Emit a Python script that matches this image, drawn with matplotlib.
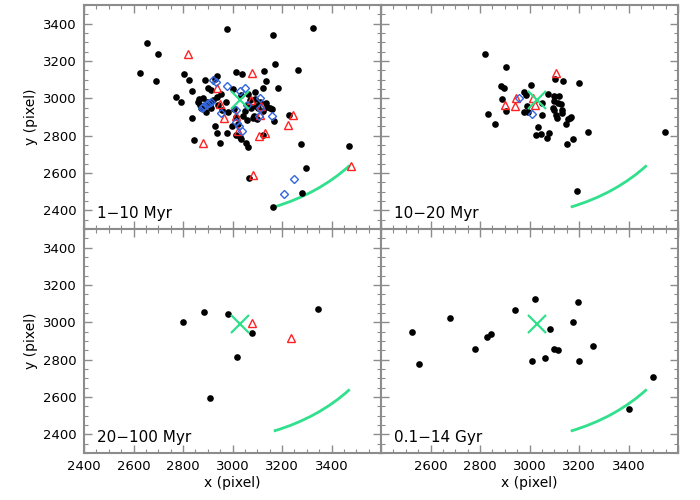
import matplotlib
matplotlib.use('Agg')
import matplotlib.pyplot as plt
from matplotlib.patches import Arc
import numpy as np

plt.rcParams['font.family'] = 'DejaVu Sans'

# ---- data (pixel coordinates) ----
labels = ['1\u221210 Myr', '10\u221220 Myr', '20\u2212100 Myr', '0.1\u221214 Gyr']

# panel 1: 1-10 Myr
p1_black_x = [2976, 3162, 3326, 2656, 2697, 2626, 2690, 3173, 3265, 3184, 2772, 2792,
              2837, 2928, 2939, 2976, 2846, 2948, 3030, 3034, 3054, 3061, 3122, 3276,
              3472, 3295, 3067, 3282, 3162, 3229, 3166,
              2824, 2805, 2887, 2937, 2931, 3016, 3038, 3127, 3134, 2835, 2903, 2914,
              3002, 3091, 3125, 2866, 2880, 2897, 2923, 3063, 3089, 3111, 3135, 3152,
              3161, 2873, 2893, 2910, 2959, 2982, 3005, 3050, 3073, 3087, 3100, 3122,
              3043, 3059, 3081, 2999, 3023, 3016, 2887, 2859, 2904, 2941, 2937, 2955,
              2975, 3057, 3104, 3070, 3036, 3016, 2868, 2912, 3095, 3140]
p1_black_y = [3372, 3341, 3375, 3298, 3236, 3138, 3095, 3184, 3154, 3057, 3007, 2980,
              2897, 2852, 2813, 2816, 2777, 2759, 2791, 2780, 2759, 2741, 2804, 2755,
              2745, 2625, 2571, 2491, 2416, 2909, 2880,
              3100, 3128, 3096, 3121, 3103, 3139, 3128, 3146, 3094, 3039, 3053, 3044,
              3048, 3032, 3053, 2994, 3003, 2982, 2991, 3021, 2999, 2978, 2973, 2950,
              2943, 2946, 2925, 2964, 2937, 2928, 2943, 2932, 2946, 2907, 2889, 2932,
              2907, 2882, 2893, 2852, 2861, 2803, 2964, 2982, 2973, 2964, 3009, 3021,
              2982, 2964, 2946, 2991, 3018, 2902, 2965, 2950, 2960, 2955]
p1_red_x = [2819, 3080, 2938, 2950, 2964, 3016, 3024, 3074, 3116, 3111, 3131, 3107,
            3243, 3224, 2881, 3084, 3479]
p1_red_y = [3236, 3138, 3053, 2967, 2893, 2905, 2825, 2992, 2959, 2911, 2812, 2798,
            2911, 2857, 2759, 2589, 2638]
p1_blue_x = [2923, 2934, 2979, 3029, 3051, 3111, 2875, 2885, 2895, 2905, 2915, 2880,
             2952, 3016, 3057, 3111, 3108, 3159, 3016, 3027, 3040, 3250, 3207]
p1_blue_y = [3098, 3089, 3066, 3041, 3053, 3003, 2950, 2960, 2970, 2976, 2980, 2955,
             2923, 2937, 2964, 2950, 2905, 2905, 2875, 2853, 2827, 2568, 2488]

# panel 2: 10-20 Myr
p2_black_x = [2819, 2903, 2885, 2897, 2890, 2907, 2834, 2859, 2977, 2986, 3006, 2990,
              2977, 2994, 3050, 3050, 3074, 3097, 3120, 3100, 3114, 3127, 3094, 3100,
              3130, 3132, 3106, 3112, 3147, 3154, 3166, 3163, 3103, 3137, 3199, 3034,
              3047, 3027, 3077, 3070, 3150, 3176, 3236, 3546, 3191]
p2_black_y = [3236, 3170, 3066, 3057, 2995, 2932, 2918, 2861, 3032, 3020, 3070, 2959,
              2927, 2927, 2977, 2909, 3022, 3013, 3013, 2986, 2973, 2968, 2947, 2936,
              2938, 2923, 2911, 2893, 2863, 2888, 2902, 2893, 3102, 3091, 3082, 2848,
              2809, 2802, 2816, 2786, 2754, 2780, 2822, 2822, 2505]
p2_red_x = [3106, 2902, 2943, 2946, 3014, 3023]
p2_red_y = [3136, 2963, 2961, 3000, 3000, 2964]
p2_blue_x = [2957, 3012]
p2_blue_y = [3003, 2914]

# panel 3: 20-100 Myr
p3_black_x = [2799, 2883, 2980, 3078, 3020, 2908, 3346]
p3_black_y = [3001, 3055, 3042, 2942, 2812, 2594, 3073]
p3_red_x = [3078, 3238]
p3_red_y = [2996, 2914]

# panel 4: 0.1-14 Gyr
p4_black_x = [2526, 2555, 2677, 2778, 2830, 2846, 2942, 3022, 3011, 3064, 3082, 3100,
              3116, 3174, 3194, 3199, 3258, 3400, 3500]
p4_black_y = [2950, 2778, 3021, 2858, 2919, 2937, 3066, 3123, 2792, 2810, 2964, 2855,
              2853, 3001, 3110, 2792, 2874, 2537, 2705]

center_x, center_y = 3030, 2990
arc_cx, arc_cy, arc_r = 2890, 3120, 755
arc_t1, arc_t2 = -68.5, -39.4

xticks = [2400, 2600, 2800, 3000, 3200, 3400, 3600]
yticks = [2400, 2600, 2800, 3000, 3200, 3400]

green = '#30e08c'
red = '#ff2222'
blue = '#3366dd'
gray = '#8c8c8c'

fig = plt.figure(figsize=(7, 5), dpi=100)
w, h = 0.4243, 0.448
pos = [[0.12, 0.542, w, h], [0.12 + w, 0.542, w, h],
       [0.12, 0.094, w, h], [0.12 + w, 0.094, w, h]]

blacks = [(p1_black_x, p1_black_y), (p2_black_x, p2_black_y),
          (p3_black_x, p3_black_y), (p4_black_x, p4_black_y)]
reds = [(p1_red_x, p1_red_y), (p2_red_x, p2_red_y), (p3_red_x, p3_red_y), ([], [])]
blues = [(p1_blue_x, p1_blue_y), (p2_blue_x, p2_blue_y), ([], []), ([], [])]

for i in range(4):
    ax = fig.add_axes(pos[i])
    ax.plot(blacks[i][0], blacks[i][1], 'o', color='k', ms=4.8, mew=0)
    ax.plot(reds[i][0], reds[i][1], '^', mfc='none', mec=red, ms=6.2, mew=1.0)
    ax.plot(blues[i][0], blues[i][1], 'D', mfc='none', mec=blue, ms=4.5, mew=1.0)
    ax.plot([center_x], [center_y], 'x', color=green, ms=13, mew=1.6)
    ax.add_patch(Arc((arc_cx, arc_cy), 2 * arc_r, 2 * arc_r, theta1=arc_t1,
                     theta2=arc_t2, color=green, lw=2))
    ax.set_xlim(2400, 3600)
    ax.set_ylim(2300, 3500)
    ax.set_xticks(xticks)
    ax.set_yticks(yticks)
    ax.set_xticks(np.arange(2400, 3601, 50), minor=True)
    ax.set_yticks(np.arange(2300, 3501, 50), minor=True)
    ax.tick_params(which='both', direction='in', top=True, right=True, color=gray,
                   labelsize=9.5, pad=5)
    ax.tick_params(which='major', length=6, width=1)
    ax.tick_params(which='minor', length=3, width=0.8)
    for s in ax.spines.values():
        s.set_color(gray)
        s.set_linewidth(1.5)
    ax.text(0.044, 0.07, labels[i], transform=ax.transAxes, fontsize=11,
            va='center', ha='left')
    if i % 2 == 0:
        ax.set_ylabel('y (pixel)', fontsize=10)
    else:
        ax.set_yticklabels([])
    if i == 2:
        ax.set_xticklabels(['2400', '2600', '2800', '3000', '3200', '3400', ''])
        ax.set_xlabel('x (pixel)', fontsize=10, labelpad=2)
    elif i == 3:
        ax.set_xticklabels(['', '2600', '2800', '3000', '3200', '3400', ''])
        ax.set_xlabel('x (pixel)', fontsize=10, labelpad=2)
    else:
        ax.set_xticklabels([])

plt.savefig('out.png', dpi=100)
